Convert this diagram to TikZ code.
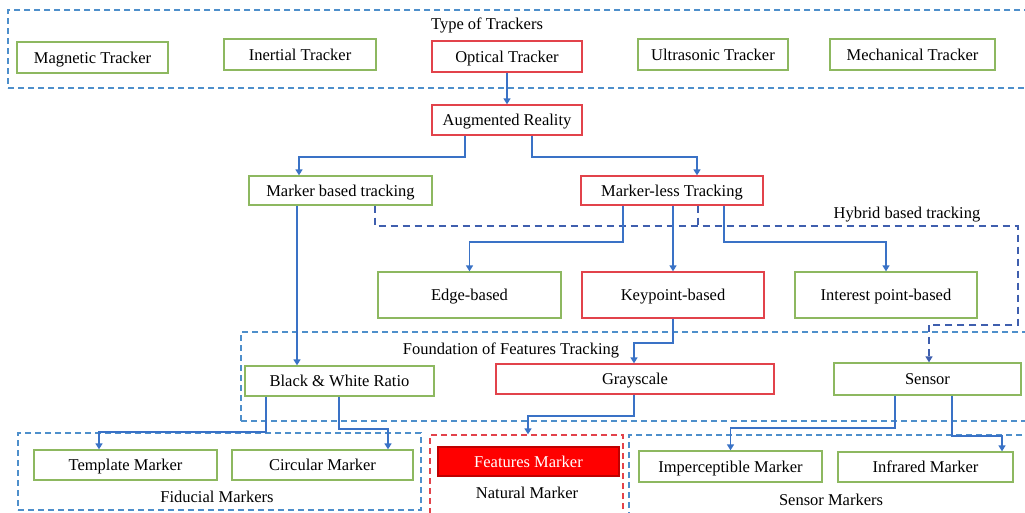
\documentclass[tikz,border=0pt]{standalone}
\usepackage{fontspec}
\setmainfont{Liberation Serif}
\usetikzlibrary{arrows.meta}
\definecolor{gG}{HTML}{8DB860}
\definecolor{rR}{HTML}{E2434B}
\definecolor{cB}{HTML}{3A72C6}
\definecolor{dB}{HTML}{4E8FCB}
\definecolor{hB}{HTML}{3F5FAE}
\definecolor{fR}{HTML}{FF0000}
\begin{document}
\begin{tikzpicture}[x=1pt,y=-1pt,font=\fontsize{16.5}{19}\selectfont,
  box/.style={draw,line width=1.3pt,inner sep=0pt,align=center,fill=white,text height=13.5pt,text depth=2pt},
  gbox/.style={box,draw=gG},
  rbox/.style={box,draw=rR},
  grp/.style={draw=dB,line width=1.3pt,dash pattern=on 6pt off 4pt,inner sep=0pt},
  ngrp/.style={draw=rR,line width=1.3pt,dash pattern=on 6pt off 4pt,inner sep=0pt},
  arr/.style={draw=cB,line width=1.8pt,-{Triangle[width=7pt,length=6pt]}},
  hyb/.style={draw=hB,line width=1.5pt,dash pattern=on 7pt off 5pt},
  title/.style={inner sep=1pt,text height=13.5pt,text depth=2pt}]
\useasboundingbox (0,0) rectangle (1025,512);
\fill[white] (0,0) rectangle (1025,512);
\clip (0,0) rectangle (1025,512);
% group boxes
\node[grp,minimum width=1027,minimum height=78] (types) at (521.5,49) {};
\node[grp,minimum width=794,minimum height=89] (found) at (638,376.5) {};
\node[grp,minimum width=403,minimum height=77] (fid) at (219.5,471.5) {};
\node[ngrp,minimum width=193,minimum height=81] (nat) at (526.5,475.5) {};
\node[grp,minimum width=406,minimum height=81] (sensm) at (832,475.5) {};
% titles
\node[title] (ttypes) at (487,24) {Type of Trackers};
\node[title] (tfound) at (511,349) {Foundation of Features Tracking};
\node[title] (tfid) at (217,497) {Fiducial Markers};
\node[title] (tnat) at (527,493) {Natural Marker};
\node[title] (tsens) at (831,500) {Sensor Markers};
\node[title] (thyb) at (907,213) {Hybrid based tracking};
% hybrid dashed path
\coordinate (hA) at (375,226);
\coordinate (hB) at (1018,226);
\coordinate (hC) at (1018,325);
\coordinate (hD) at (929,325);
\coordinate (hE) at (698,226);
% trackers
\node[gbox,minimum width=151,minimum height=31] (mag) at (92.5,57.5) {Magnetic Tracker};
\node[gbox,minimum width=152,minimum height=31] (inert) at (300,54.5) {Inertial Tracker};
\node[rbox,minimum width=150,minimum height=31] (opt) at (507,56.5) {Optical Tracker};
\node[gbox,minimum width=150,minimum height=31] (ultra) at (713,54.5) {Ultrasonic Tracker};
\node[gbox,minimum width=165,minimum height=31] (mech) at (912.5,54.5) {Mechanical Tracker};
% main
\node[rbox,minimum width=150,minimum height=30] (ar) at (507,120) {Augmented Reality};
\node[gbox,minimum width=183,minimum height=29] (mbt) at (340.5,190.5) {Marker based tracking};
\node[rbox,minimum width=182,minimum height=29] (mlt) at (672,190.5) {Marker-less Tracking};
\node[gbox,minimum width=183,minimum height=46] (edge) at (469.5,295) {Edge-based};
\node[rbox,minimum width=182,minimum height=46] (key) at (673,295) {Keypoint-based};
\node[gbox,minimum width=182,minimum height=46] (inter) at (886,295) {Interest point-based};
\node[gbox,minimum width=189,minimum height=30] (bw) at (339.5,381) {Black \& White Ratio};
\node[rbox,minimum width=278,minimum height=30] (gray) at (635,379) {Grayscale};
\node[gbox,minimum width=187,minimum height=32] (sensor) at (927.5,379) {Sensor};
\node[gbox,minimum width=183,minimum height=30] (templ) at (125.5,465) {Template Marker};
\node[gbox,minimum width=181,minimum height=30] (circ) at (322.5,465) {Circular Marker};
\node[box,draw=fR!75!black,fill=fR,text=white,minimum width=181,minimum height=29] (feat) at (528.5,461.5) {Features Marker};
\node[gbox,minimum width=183,minimum height=31] (imp) at (730.5,466.5) {Imperceptible Marker};
\node[gbox,minimum width=175,minimum height=30] (infra) at (925.5,467) {Infrared Marker};
% hybrid lines
\draw[hyb] ([xshift=34.5pt]mbt.south) -- (hA) -- (hB) -- (hC) -- (hD);
\draw[hyb] ([xshift=26pt]mlt.south) -- (hE);
\draw[hyb,-{Triangle[width=7pt,length=6pt]}] (hD) -- ([xshift=1.5pt]sensor.north);
% connectors
\draw[arr] (opt.south) -- (ar.north);
\draw[arr] ([xshift=-42pt]ar.south) -- ++(0,21) -| ([xshift=-41.5pt]mbt.north);
\draw[arr] ([xshift=25pt]ar.south) -- ++(0,21) -| ([xshift=25pt]mlt.north);
\draw[arr] ([xshift=-43.5pt]mbt.south) -- ([xshift=-42.5pt]bw.north);
\draw[arr] ([xshift=-49pt]mlt.south) -- ++(0,36) -| (edge.north);
\draw[arr] ([xshift=1pt]mlt.south) -- (key.north);
\draw[arr] ([xshift=52pt]mlt.south) -- ++(0,36) -| (inter.north);
\draw[arr] (key.south) -- ++(0,24) -| ([xshift=-1pt]gray.north);
\draw[arr] ([xshift=-73.5pt]bw.south) -- ++(0,35) -| ([xshift=-26.5pt]templ.north);
\draw[arr] ([xshift=-0.5pt]bw.south) -- ++(0,32) -| ([xshift=65.5pt]circ.north);
\draw[arr] ([xshift=-1pt]gray.south) -- ++(0,21) -| ([xshift=1.5pt]nat.north);
\draw[arr] ([xshift=-32.5pt]sensor.south) -- ++(0,32) -| (imp.north);
\draw[arr] ([xshift=24.5pt]sensor.south) -- ++(0,40) -| ([xshift=76.5pt]infra.north);
\end{tikzpicture}
\end{document}
